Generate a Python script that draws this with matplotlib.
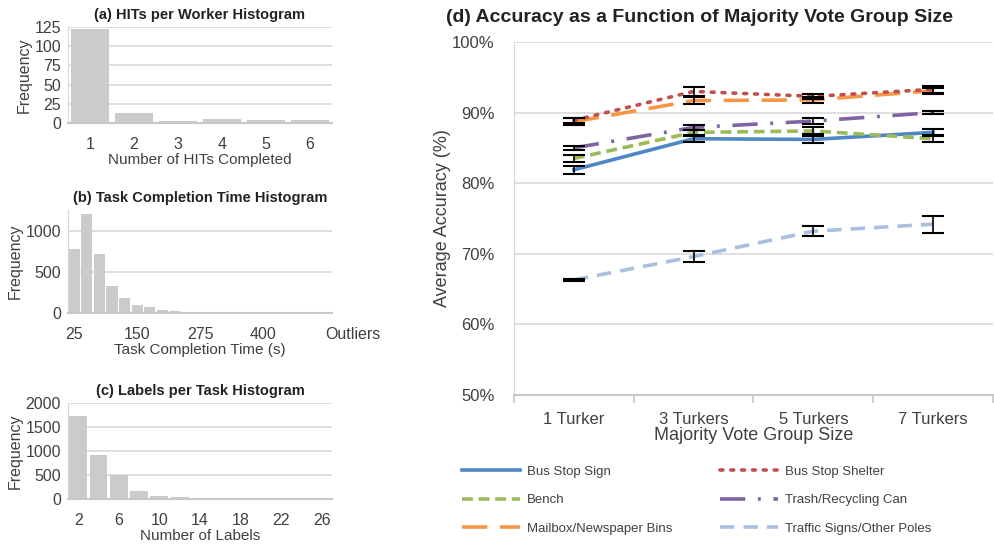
import numpy as np
import matplotlib
matplotlib.use("Agg")
from matplotlib import pyplot as plt

plt.rcParams['font.family'] = ['Liberation Sans Narrow', 'Liberation Sans', 'DejaVu Sans']

# (a) HITs per worker
hits_labels = ['1', '2', '3', '4', '5', '6']
hits_freq = [123, 13, 2, 5, 4, 4]

# (b) task completion time, bins of 25 s plus outliers
time_freq = [772, 1199, 715, 325, 183, 98, 73, 33, 24, 12, 5, 4, 3, 2, 2, 1, 1, 1, 1, 1, 12]
time_ticks = [0, 5, 10, 15, 20]
time_ticklabels = ['25', '150', '275', '400', 'Outliers']

# (c) labels per task, bins of 2
label_freq = [1720, 915, 500, 175, 70, 42, 14, 6, 4, 2, 1, 1, 1]
label_ticks = [0, 2, 4, 6, 8, 10, 12]
label_ticklabels = ['2', '6', '10', '14', '18', '22', '26']

# (d) accuracy vs group size
groups = ['1 Turker', '3 Turkers', '5 Turkers', '7 Turkers']
bus_sign = [81.9, 86.3, 86.2, 87.2]
bus_sign_err = [0.6, 0.4, 0.5, 0.5]
shelter = [88.9, 93.0, 92.3, 93.3]
shelter_err = [0.4, 0.6, 0.4, 0.5]
bench = [83.5, 87.2, 87.4, 86.3]
bench_err = [0.5, 0.4, 0.5, 0.5]
trash = [85.0, 87.9, 88.8, 90.0]
trash_err = [0.3, 0.3, 0.4, 0.2]
mailbox = [88.7, 91.7, 91.8, 93.1]
mailbox_err = [0.5, 0.5, 0.4, 0.4]
traffic = [66.3, 69.6, 73.2, 74.2]
traffic_err = [0.2, 0.8, 0.7, 1.2]

W, H = 995, 556
fig = plt.figure(figsize=(W / 100, H / 100), dpi=100)


def px(l, t, r, b):
    return [l / W, 1 - b / H, (r - l) / W, (b - t) / H]


BAR = '#cbcbcb'
GRID = '#d9d9d9'
TXT = '#404040'


def hist_axes(rect, vals, yticks, title, xlabel, xt, xtl):
    ax = fig.add_axes(rect)
    x = np.arange(len(vals))
    ax.bar(x, vals, width=0.88, color=BAR, zorder=2)
    ax.set_xlim(-0.5, len(vals) - 0.5)
    ax.set_ylim(yticks[0], yticks[-1])
    ax.set_yticks(yticks)
    ax.set_xticks(xt)
    ax.set_xticklabels(xtl)
    ax.tick_params(length=0, labelsize=11.5, colors=TXT, pad=5)
    ax.tick_params(axis='x', pad=10)
    ax.yaxis.grid(True, color=GRID, lw=1.2, zorder=0)
    for s in ['top', 'right']:
        ax.spines[s].set_visible(False)
    ax.spines['left'].set_color(GRID)
    ax.spines['bottom'].set_color('#c8c8c8')
    ax.spines['bottom'].set_linewidth(1.5)
    ax.set_xlabel(xlabel, fontsize=11, color=TXT, labelpad=1)
    ax.set_ylabel('Frequency', fontsize=11.5, color=TXT, labelpad=2)
    ax.set_title(title, fontsize=10.5, fontweight='bold', color='#222222', pad=6)
    return ax


hist_axes(px(68, 27, 332, 123), hits_freq, [0, 25, 50, 75, 100, 125],
          '(a) HITs per Worker Histogram', 'Number of HITs Completed',
          np.arange(6), hits_labels)
axb = hist_axes(px(68, 210, 332, 313), time_freq, [0, 500, 1000, 1250],
                '(b) Task Completion Time Histogram', 'Task Completion Time (s)',
                time_ticks, time_ticklabels)
axb.set_yticks([0, 500, 1000])
last = axb.get_xticklabels()[-1]
last.set_ha('left')
hist_axes(px(68, 403, 332, 499), label_freq, [0, 500, 1000, 1500, 2000],
          '(c) Labels per Task Histogram', 'Number of Labels',
          label_ticks, label_ticklabels)

# (d)
ax = fig.add_axes(px(514, 42, 993, 395))
x = np.arange(len(groups))
series = [
    ('Bus Stop Sign', bus_sign, bus_sign_err, '#4f86c6', '-'),
    ('Bench', bench, bench_err, '#9bbb59', (0, (3, 1.6))),
    ('Mailbox/Newspaper Bins', mailbox, mailbox_err, '#f79646', (0, (7, 3.5))),
    ('Bus Stop Shelter', shelter, shelter_err, '#c0504d', (0, (0.8, 2.2))),
    ('Trash/Recycling Can', trash, trash_err, '#8064a2', (0, (7, 3.5, 0.8, 3.5))),
    ('Traffic Signs/Other Poles', traffic, traffic_err, '#a9bfdf', (0, (4, 2.5))),
]
handles = []
for name, vals, err, col, ls in series:
    ln, = ax.plot(x, vals, color=col, lw=2.6, ls=ls, label=name, zorder=3,
                  dash_capstyle='round' if name == 'Bus Stop Shelter' else 'butt')
    ax.errorbar(x, vals, yerr=err, fmt='none', ecolor='black', elinewidth=1.2,
                capsize=8, capthick=1.5, zorder=4)
    handles.append(ln)

ax.set_xlim(-0.5, len(groups) - 0.5)
ax.set_ylim(50, 100)
ax.set_yticks(np.arange(50, 101, 10))
ax.set_yticklabels(['%d%%' % v for v in np.arange(50, 101, 10)])
ax.set_xticks(x)
ax.set_xticklabels(groups)
ax.set_xticks(np.arange(-0.5, len(groups), 1), minor=True)
ax.tick_params(axis='y', length=0, labelsize=12, colors=TXT, pad=14)
ax.tick_params(axis='x', which='major', length=0, labelsize=12, colors=TXT, pad=12)
ax.tick_params(axis='x', which='minor', length=6, color='#c8c8c8', width=1.2)
ax.yaxis.grid(True, color=GRID, lw=1.2, zorder=0)
for s in ['top', 'right']:
    ax.spines[s].set_visible(False)
ax.spines['left'].set_color(GRID)
ax.spines['bottom'].set_color('#c8c8c8')
ax.spines['bottom'].set_linewidth(1.5)
ax.set_xlabel('Majority Vote Group Size', fontsize=13, color=TXT, labelpad=0)
fig.text(443 / W, 1 - 218 / H, 'Average Accuracy (%)', rotation=90, ha='center',
         va='center', fontsize=13, color=TXT)
fig.text(700 / W, 1 - 18 / H, '(d) Accuracy as a Function of Majority Vote Group Size',
         ha='center', va='center', fontsize=14, fontweight='bold', color='#222222')

leg_kw = dict(loc='upper left', frameon=False, fontsize=9.5, handlelength=4.4,
              handletextpad=0.5, labelspacing=1.25, labelcolor=TXT, borderaxespad=0)
fig.legend(handles=handles[:3], bbox_to_anchor=(457 / W, 1 - 460 / H), **leg_kw)
fig.legend(handles=handles[3:], bbox_to_anchor=(715 / W, 1 - 460 / H), **leg_kw)

fig.savefig('out.png', dpi=100)
